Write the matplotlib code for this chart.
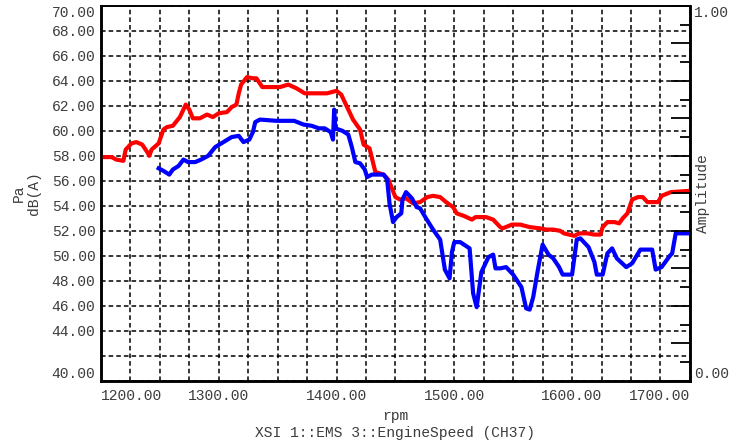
import matplotlib
matplotlib.use('Agg')
import matplotlib.pyplot as plt
import numpy as np

plt.rcParams['font.family'] = ['Liberation Mono', 'DejaVu Sans Mono']

# %% data (rpm, dB(A))
red_rpm = [1200, 1209, 1213, 1219, 1221, 1226, 1230, 1235, 1240, 1241,
           1243, 1249, 1253, 1256, 1261, 1267, 1272, 1275, 1278, 1284,
           1290, 1295, 1300, 1307, 1311, 1315, 1317, 1319, 1324, 1329,
           1332, 1337, 1344, 1352, 1359, 1366, 1373, 1383, 1392, 1400,
           1404, 1409, 1414, 1420, 1423, 1428, 1433, 1440, 1444, 1447,
           1450, 1454, 1459, 1465, 1471, 1477, 1482, 1488, 1493, 1499,
           1502, 1508, 1515, 1518, 1527, 1533, 1539, 1541, 1549, 1556,
           1564, 1573, 1578, 1584, 1590, 1593, 1602, 1606, 1613, 1619,
           1624, 1626, 1630, 1636, 1640, 1643, 1647, 1651, 1656, 1660,
           1664, 1673, 1676, 1684, 1700]
red_db = [57.9, 57.9, 57.7, 57.6, 58.5, 59.0, 59.1, 58.9, 58.2, 58.0,
          58.5, 59.0, 60.1, 60.3, 60.4, 61.1, 62.1, 61.7, 61.0, 61.0,
          61.3, 61.1, 61.4, 61.5, 61.9, 62.1, 63.0, 63.7, 64.3, 64.2,
          64.2, 63.5, 63.5, 63.5, 63.7, 63.4, 63.0, 63.0, 63.0, 63.2,
          62.9, 61.9, 60.9, 60.1, 58.9, 58.6, 56.7, 56.5, 56.1, 55.4,
          54.7, 54.5, 54.6, 54.2, 54.3, 54.7, 54.8, 54.7, 54.3, 53.9,
          53.4, 53.2, 52.9, 53.1, 53.1, 52.9, 52.3, 52.2, 52.5, 52.5,
          52.3, 52.2, 52.1, 52.1, 52.0, 51.8, 51.6, 51.8, 51.8, 51.7,
          51.7, 52.3, 52.7, 52.7, 52.6, 53.0, 53.4, 54.5, 54.7, 54.7,
          54.3, 54.3, 54.8, 55.1, 55.2]

blue_rpm = [1249, 1253, 1258, 1261, 1266, 1270, 1274, 1280, 1285, 1291,
            1297, 1304, 1311, 1317, 1321, 1326, 1329, 1331, 1335, 1349,
            1364, 1372, 1379, 1385, 1390, 1395, 1397, 1398, 1399, 1405,
            1410, 1413, 1416, 1420, 1424, 1426, 1430, 1440, 1443, 1445,
            1448, 1451, 1455, 1456, 1459, 1464, 1468, 1471, 1476, 1482,
            1488, 1492, 1496, 1498, 1500, 1505, 1513, 1516, 1519, 1523,
            1529, 1533, 1535, 1539, 1544, 1550, 1557, 1561, 1564, 1567,
            1571, 1575, 1580, 1584, 1589, 1592, 1600, 1602, 1604, 1607,
            1614, 1619, 1621, 1626, 1630, 1634, 1638, 1646, 1651, 1658,
            1668, 1671, 1676, 1683, 1685, 1688, 1700]
blue_db = [57.0, 56.8, 56.5, 56.9, 57.2, 57.7, 57.5, 57.5, 57.7, 58.0,
           58.7, 59.1, 59.5, 59.6, 59.1, 59.3, 59.9, 60.7, 60.9, 60.8,
           60.8, 60.5, 60.4, 60.2, 60.2, 59.9, 59.3, 61.7, 60.2, 60.0,
           59.7, 58.7, 57.5, 57.4, 56.9, 56.3, 56.5, 56.5, 56.1, 54.2,
           52.7, 53.1, 53.4, 54.5, 55.1, 54.6, 53.9, 53.8, 53.0, 52.1,
           51.3, 48.9, 48.2, 50.3, 51.1, 51.1, 50.6, 47.0, 45.9, 48.7,
           49.9, 50.1, 49.0, 49.0, 49.1, 48.5, 47.5, 45.8, 45.7, 46.7,
           48.9, 50.9, 50.1, 49.8, 49.1, 48.5, 48.5, 49.9, 51.3, 51.4,
           50.7, 49.5, 48.5, 48.5, 50.2, 50.6, 49.8, 49.1, 49.4, 50.5,
           50.5, 48.9, 49.1, 50.0, 50.2, 51.8, 51.8]

x_grid = np.arange(1200, 1701, 25)
y_grid = np.arange(40, 71, 2)
amp_ticks = np.arange(0, 1.001, 0.1)

txt_color = '#3c3c3c'
fs = 10.5

fig = plt.figure(figsize=(7.37, 4.46), dpi=100)
ax = fig.add_axes([0.137, 0.146, 0.799, 0.841])

ax.plot(red_rpm, red_db, color='#ff0000', lw=3, zorder=3)
ax.plot(blue_rpm, blue_db, color='#0000ff', lw=3, zorder=3)
ax.set_xlim(1200, 1700)
ax.set_ylim(40, 70)

# x: dashed grid every 25 rpm, labels every 100, solid inner ticks every 50
ax.set_xticks(x_grid)
ax.set_xticklabels(['%.2f' % v if v % 100 == 0 else '' for v in x_grid])
ax.set_xticks(np.arange(1200, 1701, 50), minor=True)
ax.tick_params(axis='x', which='major', length=0, pad=6, labelsize=fs, labelcolor=txt_color)
ax.tick_params(axis='x', which='minor', direction='in', length=18, width=1.3, color='k')
xl = ax.get_xticklabels()
xl[0].set_ha('left')
xl[-1].set_ha('right')

# y: dashed grid every 2 dB, solid inner ticks every 10
ax.set_yticks(y_grid)
ax.set_yticklabels(['' if v == 42 else '%.2f' % v for v in y_grid])
ax.set_yticks([40, 50, 60, 70], minor=True)
ax.tick_params(axis='y', which='major', length=0, pad=4, labelsize=fs, labelcolor=txt_color)
ax.tick_params(axis='y', which='minor', direction='in', length=20, width=1.3, color='k')
yl = ax.get_yticklabels()
yl[0].set_va('bottom')
yl[-1].set_va('top')

ax.grid(True, which='major', color='k', ls=(0, (3, 2)), lw=1.1)

ax.set_ylabel('Pa\ndB(A)', fontsize=fs, color=txt_color, labelpad=8, linespacing=1.1)
ax.set_xlabel('rpm\nXSI 1::EMS 3::EngineSpeed (CH37)', fontsize=fs, color=txt_color,
              labelpad=4, linespacing=1.3)

# right amplitude axis
ax2 = ax.twinx()
ax2.set_ylim(0, 1)
ax2.set_yticks(amp_ticks)
ax2.set_yticklabels(['%.2f' % v if i in (0, len(amp_ticks) - 1) else ''
                     for i, v in enumerate(amp_ticks)])
ax2.set_yticks(np.arange(0.05, 1.0, 0.1), minor=True)
ax2.tick_params(axis='y', which='major', direction='in', length=14, width=1.3, pad=3,
                labelsize=fs, labelcolor=txt_color)
ax2.tick_params(axis='y', which='minor', direction='in', length=7, width=1.3)
al = ax2.get_yticklabels()
al[0].set_va('bottom')
al[-1].set_va('top')
ax2.text(1.022, 0.5, 'Amplitude', transform=ax2.transAxes, rotation=90,
         ha='center', va='center', fontsize=fs, color=txt_color)

for a in (ax, ax2):
    for s in ('left', 'bottom', 'right'):
        a.spines[s].set_linewidth(1.8)
    a.spines['top'].set_linewidth(1.2)

fig.savefig('out.png', dpi=100)
